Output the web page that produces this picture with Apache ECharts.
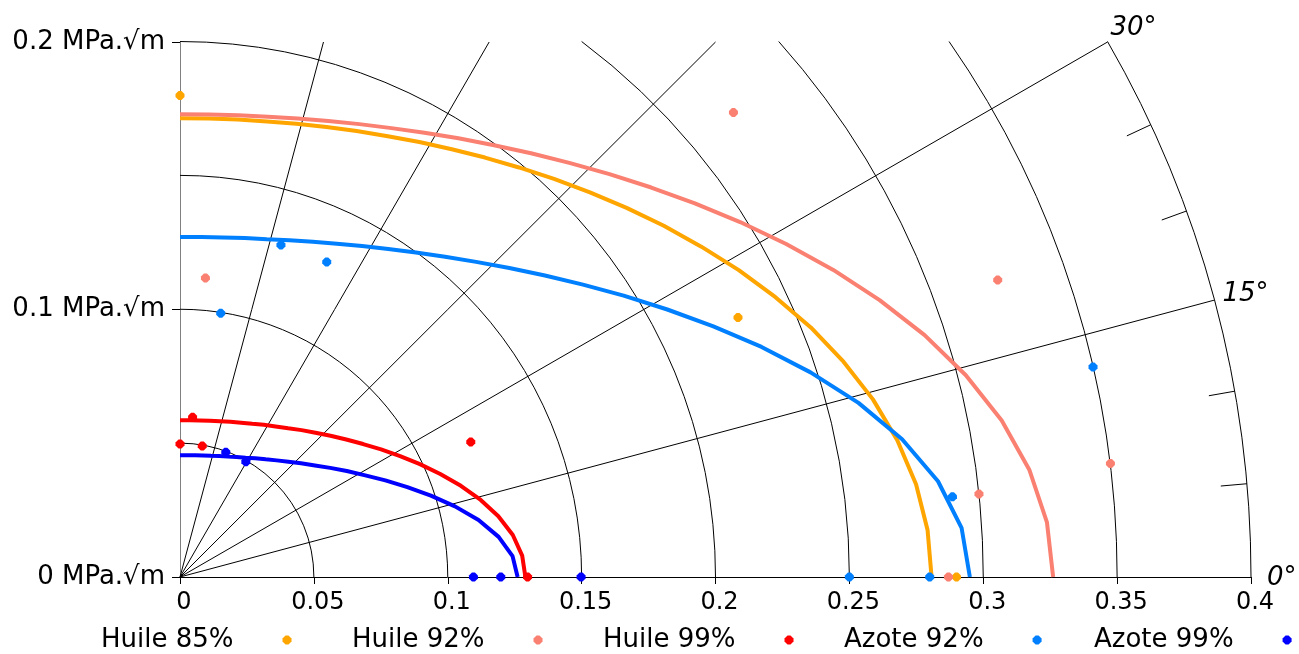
<!DOCTYPE html>
<html>
<head>
<meta charset="utf-8">
<script src="https://cdn.jsdelivr.net/npm/echarts@6/dist/echarts.min.js"></script>
<style>
html,body{margin:0;padding:0;background:#ffffff;}
#chart{width:1299px;height:654px;}
</style>
</head>
<body>
<div id="chart"></div>
<script>
// ---------- DATA ----------
const seriesNames = ['Huile 85%', 'Huile 92%', 'Huile 99%', 'Azote 92%', 'Azote 99%'];

// measured points [K_I, K_II] (MPa.√m)
const pointsHuile85 = [[0, 0.180], [0.2084, 0.0970], [0.2900, 0]];
const pointsHuile92 = [[0.0095, 0.1118], [0.2067, 0.1736], [0.3054, 0.1110], [0.3475, 0.0424], [0.2984, 0.0310], [0.2870, 0]];
const pointsHuile99 = [[0.0047, 0.0597], [0, 0.0497], [0.0083, 0.0490], [0.1086, 0.0505], [0.1298, 0]];
const pointsAzote92 = [[0.0152, 0.0986], [0.0377, 0.1241], [0.0548, 0.1178], [0.3410, 0.0785], [0.2885, 0.0300], [0.2800, 0], [0.2500, 0]];
const pointsAzote99 = [[0.0171, 0.0466], [0.0246, 0.0431], [0.1096, 0], [0.1198, 0], [0.1498, 0]];

// criterion curves
const curveHuile85 = [[0.2807,0],[0.2792,0.0176],[0.2749,0.0347],[0.2679,0.0511],[0.2588,0.0664],[0.2478,0.0805],[0.2356,0.0933],[0.2224,0.1046],[0.2087,0.1147],[0.1947,0.1235],[0.1807,0.1313],[0.1668,0.1380],[0.1531,0.1438],[0.1397,0.1488],[0.1266,0.1531],[0.1139,0.1568],[0.1015,0.1599],[0.0894,0.1626],[0.0776,0.1648],[0.0660,0.1667],[0.0547,0.1682],[0.0435,0.1694],[0.0325,0.1703],[0.0216,0.1710],[0.0108,0.1714],[0,0.1715]];
const curveHuile92 = [[0.3261,0],[0.3238,0.0204],[0.3172,0.0401],[0.3069,0.0585],[0.2935,0.0754],[0.2781,0.0904],[0.2613,0.1035],[0.2440,0.1148],[0.2264,0.1245],[0.2092,0.1327],[0.1923,0.1397],[0.1760,0.1456],[0.1604,0.1506],[0.1454,0.1548],[0.1311,0.1584],[0.1173,0.1614],[0.1040,0.1640],[0.0913,0.1661],[0.0790,0.1678],[0.0670,0.1693],[0.0554,0.1705],[0.0440,0.1714],[0.0328,0.1721],[0.0218,0.1726],[0.0109,0.1729],[0,0.1730]];
const curveHuile99 = [[0.1290,0],[0.1278,0.0080],[0.1243,0.0157],[0.1189,0.0227],[0.1123,0.0288],[0.1049,0.0341],[0.0972,0.0385],[0.0896,0.0422],[0.0822,0.0452],[0.0751,0.0477],[0.0684,0.0497],[0.0621,0.0514],[0.0562,0.0528],[0.0506,0.0539],[0.0454,0.0549],[0.0404,0.0556],[0.0357,0.0563],[0.0313,0.0569],[0.0270,0.0573],[0.0228,0.0577],[0.0188,0.0580],[0.0149,0.0582],[0.0111,0.0584],[0.0074,0.0585],[0.0037,0.0586],[0,0.0586]];
const curveAzote92 = [[0.2950,0],[0.2919,0.0184],[0.2831,0.0358],[0.2697,0.0515],[0.2534,0.0651],[0.2355,0.0765],[0.2172,0.0860],[0.1992,0.0937],[0.1820,0.1000],[0.1657,0.1052],[0.1505,0.1093],[0.1363,0.1127],[0.1230,0.1155],[0.1106,0.1178],[0.0990,0.1197],[0.0881,0.1213],[0.0778,0.1226],[0.0680,0.1237],[0.0586,0.1246],[0.0496,0.1253],[0.0409,0.1259],[0.0324,0.1263],[0.0242,0.1267],[0.0160,0.1269],[0.0080,0.1271],[0,0.1271]];
const curveAzote99 = [[0.1261,0],[0.1242,0.0078],[0.1190,0.0150],[0.1115,0.0213],[0.1027,0.0264],[0.0937,0.0304],[0.0849,0.0336],[0.0767,0.0361],[0.0692,0.0380],[0.0623,0.0396],[0.0561,0.0408],[0.0504,0.0417],[0.0452,0.0425],[0.0405,0.0431],[0.0361,0.0436],[0.0320,0.0440],[0.0281,0.0444],[0.0245,0.0446],[0.0211,0.0449],[0.0178,0.0450],[0.0147,0.0452],[0.0116,0.0453],[0.0087,0.0454],[0.0057,0.0455],[0.0029,0.0455],[0,0.0455]];

// axes & polar grid
const xMin = 0, xMax = 0.4, xStep = 0.05;
const yMin = 0, yMax = 0.2, yStep = 0.1;
const yUnit = ' MPa.√m';
const gridRadii = [0.05, 0.1, 0.15, 0.2, 0.25, 0.3, 0.35, 0.4];
const gridAngles = [15, 30, 45, 60, 75];
const outerTickAngles = [5, 10, 20, 25];
const angleLabelValues = [0, 15, 30];
const angleLabelTexts = ['0°', '15°', '30°'];

// ---------- STYLE ----------
const FONT = '"DejaVu Sans", Verdana, sans-serif';
const colors = ['#FFA500', '#FA8072', '#FF0000', '#0080FF', '#0000FF'];
const pointSets = [pointsHuile85, pointsHuile92, pointsHuile99, pointsAzote92, pointsAzote99];
const curveSets = [curveHuile85, curveHuile92, curveHuile99, curveAzote92, curveAzote99];
const legendLeft = [101, 352, 603, 844, 1094];
const angleLabelOffset = [[16, 1], [8, -6], [3, -14]];
const markerPath = 'path://M3,0H6L9,3V6L6,9H3L0,6V3Z';

function renderPolarGrid(params, api) {
  const o = api.coord([0, 0]);
  const unit = api.coord([1, 0])[0] - o[0];
  const ls = { stroke: '#000', lineWidth: 1, fill: null };
  const children = [];
  const rad = Math.PI / 180;
  gridRadii.forEach(function (r) {
    const maxDeg = r <= yMax ? 90 : Math.asin(yMax / r) / rad;
    children.push({
      type: 'arc',
      shape: { cx: o[0], cy: o[1], r: r * unit, startAngle: -maxDeg * rad, endAngle: 0, clockwise: true },
      style: ls
    });
  });
  gridAngles.forEach(function (d) {
    const t = d * rad;
    const rEnd = Math.min(xMax, yMax / Math.sin(t));
    const p = api.coord([rEnd * Math.cos(t), rEnd * Math.sin(t)]);
    children.push({ type: 'line', shape: { x1: o[0], y1: o[1], x2: p[0], y2: p[1] }, style: ls });
  });
  const rOuter = gridRadii[gridRadii.length - 1];
  outerTickAngles.forEach(function (d) {
    const t = d * rad;
    const p1 = api.coord([rOuter * Math.cos(t), rOuter * Math.sin(t)]);
    const p2 = api.coord([(rOuter - 0.0098) * Math.cos(t), (rOuter - 0.0098) * Math.sin(t)]);
    children.push({ type: 'line', shape: { x1: p1[0], y1: p1[1], x2: p2[0], y2: p2[1] }, style: ls });
  });
  angleLabelValues.forEach(function (d, i) {
    const t = d * rad;
    const p = api.coord([rOuter * Math.cos(t), rOuter * Math.sin(t)]);
    children.push({
      type: 'text',
      x: p[0] + angleLabelOffset[i][0],
      y: p[1] + angleLabelOffset[i][1],
      style: {
        text: angleLabelTexts[i],
        fill: '#000',
        fontSize: 26,
        fontStyle: 'italic',
        fontFamily: FONT,
        align: 'left',
        verticalAlign: 'middle'
      }
    });
  });
  return { type: 'group', children: children };
}

const series = [{
  type: 'custom',
  name: 'grille',
  coordinateSystem: 'cartesian2d',
  renderItem: renderPolarGrid,
  data: [[0, 0]],
  silent: true,
  clip: false,
  z: 1
}];
curveSets.forEach(function (c, i) {
  series.push({
    type: 'line',
    name: seriesNames[i] + ' critère',
    data: c,
    showSymbol: false,
    symbol: 'none',
    smooth: false,
    lineStyle: { color: colors[i], width: 4 },
    itemStyle: { color: colors[i] },
    z: 3,
    silent: true
  });
});
pointSets.forEach(function (p, i) {
  series.push({
    type: 'scatter',
    name: seriesNames[i],
    data: p,
    symbol: markerPath,
    symbolSize: 9,
    itemStyle: { color: colors[i], opacity: 1 },
    z: 5
  });
});

const legends = seriesNames.map(function (n, i) {
  return {
    data: [n],
    left: legendLeft[i],
    top: 627,
    orient: 'horizontal',
    align: 'right',
    padding: 0,
    itemWidth: 9,
    itemHeight: 9,
    selectedMode: false,
    itemStyle: { opacity: 1 },
    textStyle: { fontSize: 26, fontFamily: FONT, color: '#000', padding: [0, 44, 0, 0] }
  };
});

const chart = echarts.init(document.getElementById('chart'), null, { renderer: 'canvas' });
chart.setOption({
  animation: false,
  backgroundColor: '#ffffff',
  grid: { left: 180, right: 48, top: 42, bottom: 77, containLabel: false },
  xAxis: {
    type: 'value', min: xMin, max: xMax, interval: xStep,
    axisLine: { show: true, onZero: false, lineStyle: { color: '#000', width: 1 } },
    axisTick: { show: true, length: 7, lineStyle: { color: '#000' } },
    splitLine: { show: false },
    axisLabel: { fontSize: 24, fontFamily: FONT, color: '#000', margin: 14, padding: [0, 0, 0, 8] }
  },
  yAxis: {
    type: 'value', min: yMin, max: yMax, interval: yStep,
    axisLine: { show: true, onZero: false, lineStyle: { color: '#808080', width: 1 } },
    axisTick: { show: true, length: 8, lineStyle: { color: '#000' } },
    splitLine: { show: false },
    axisLabel: { fontSize: 26, fontFamily: FONT, color: '#000', margin: 15,
      formatter: function (v) { return v + yUnit; } }
  },
  legend: legends,
  series: series
});
</script>
</body>
</html>
